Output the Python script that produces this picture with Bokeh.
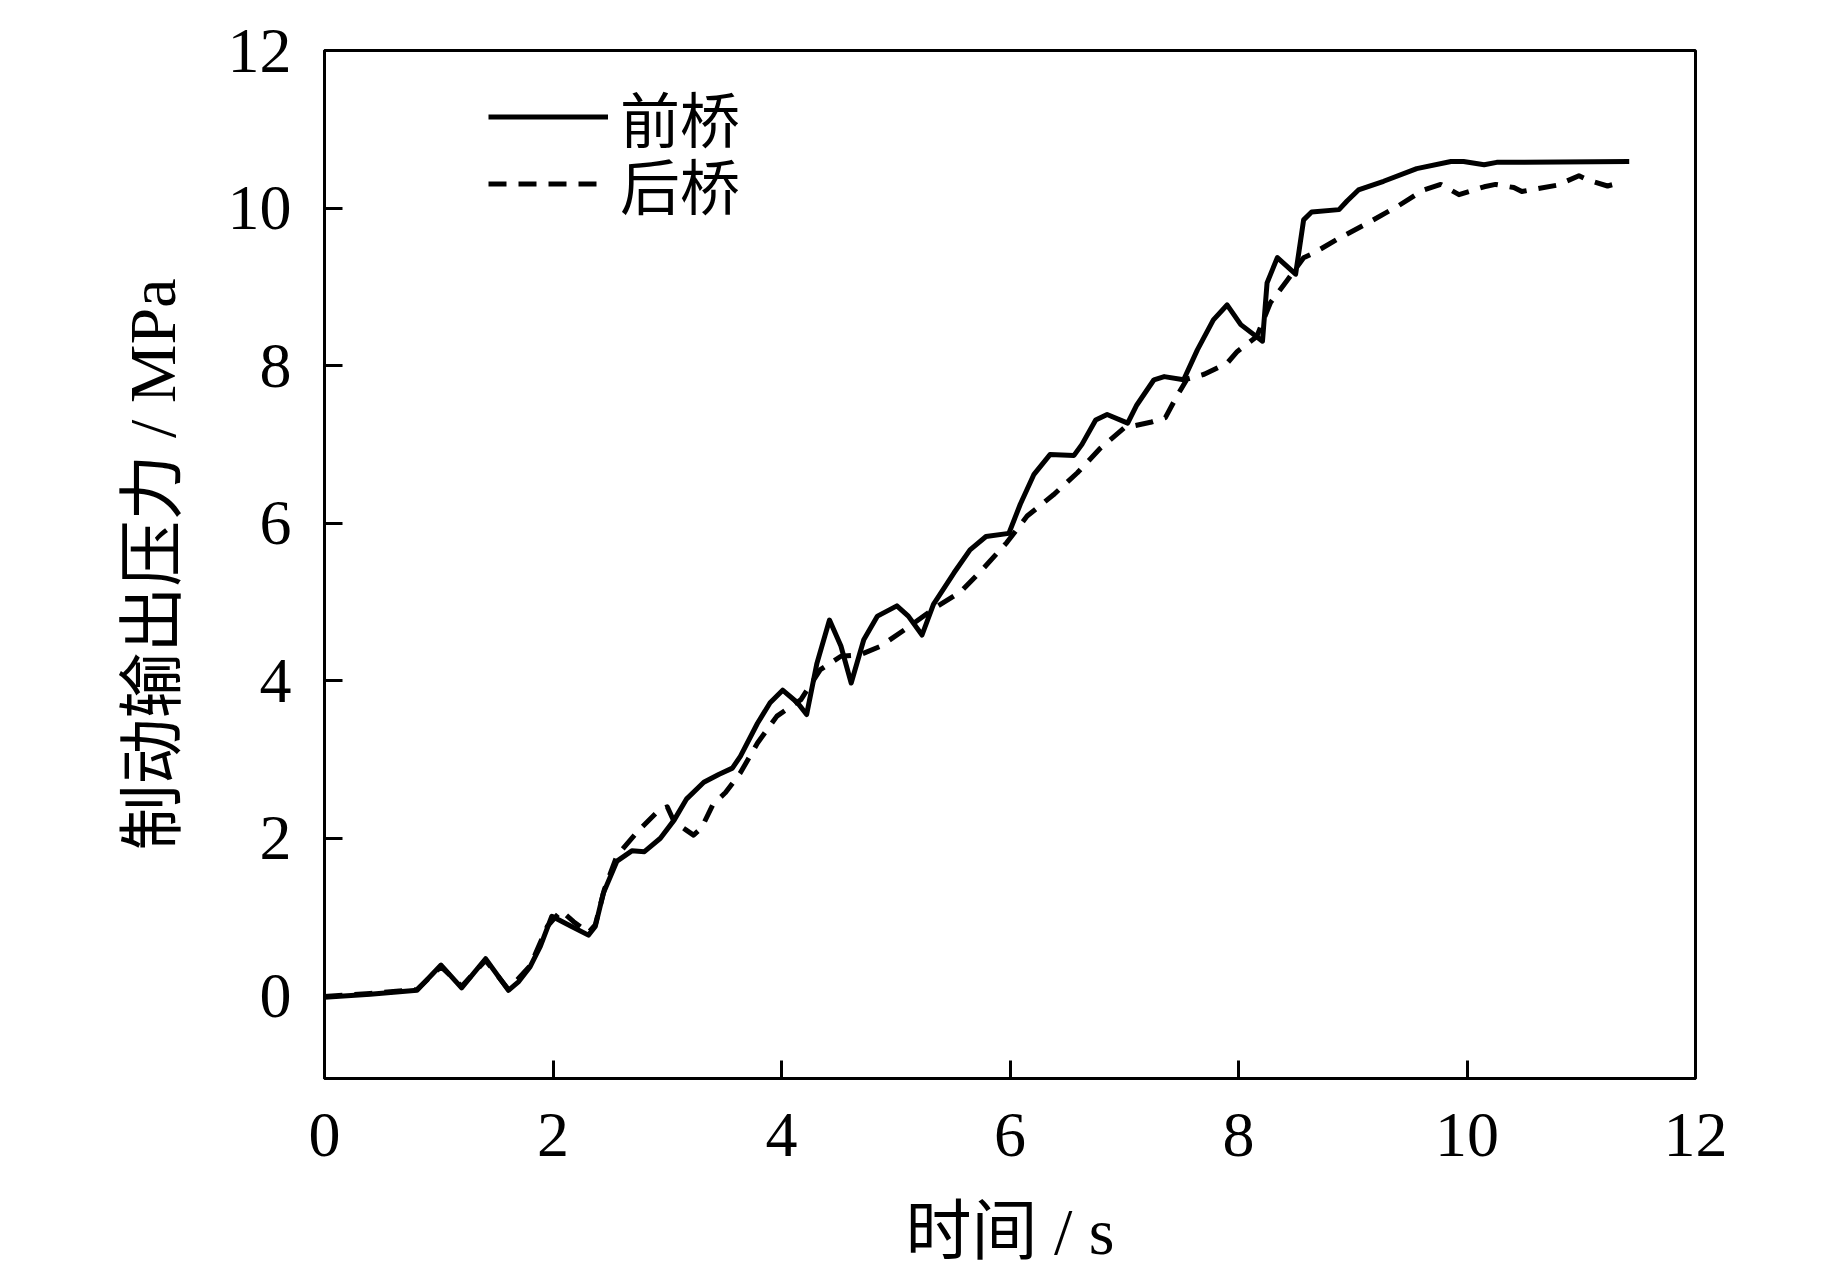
from bokeh.plotting import figure
from bokeh.models import Range1d, FixedTicker, Legend, LegendItem
from bokeh.embed import file_html
from bokeh.resources import INLINE

# ---- data ----
front_t = [0.00, 0.40, 0.81, 1.02, 1.20, 1.41, 1.61, 1.70, 1.80, 1.89, 1.99, 2.15,
           2.31, 2.37, 2.44, 2.56, 2.69, 2.80, 2.94, 3.06, 3.17, 3.32, 3.45, 3.57,
           3.64, 3.79, 3.90, 4.01, 4.14, 4.22, 4.31, 4.42, 4.52, 4.61, 4.72, 4.84,
           5.01, 5.11, 5.23, 5.33, 5.51, 5.65, 5.79, 5.99, 6.09, 6.21, 6.35, 6.56,
           6.63, 6.75, 6.85, 7.03, 7.11, 7.26, 7.35, 7.52, 7.64, 7.78, 7.90, 8.02,
           8.21, 8.25, 8.34, 8.50, 8.57, 8.64, 8.88, 8.95, 9.05, 9.27, 9.56, 9.86,
           9.97, 10.15, 10.26, 11.42]
front_p = [-0.02, 0.02, 0.07, 0.39, 0.10, 0.47, 0.07, 0.18, 0.37, 0.63, 1.01, 0.89,
           0.77, 0.88, 1.30, 1.71, 1.84, 1.83, 2.00, 2.23, 2.50, 2.71, 2.81, 2.89,
           3.04, 3.46, 3.72, 3.88, 3.72, 3.57, 4.22, 4.77, 4.44, 3.97, 4.52, 4.82,
           4.95, 4.82, 4.58, 4.97, 5.37, 5.66, 5.83, 5.87, 6.24, 6.62, 6.87, 6.86,
           7.00, 7.31, 7.38, 7.27, 7.50, 7.82, 7.86, 7.82, 8.20, 8.58, 8.77, 8.52,
           8.31, 9.05, 9.37, 9.16, 9.85, 9.95, 9.98, 10.09, 10.23, 10.34, 10.50, 10.59,
           10.59, 10.55, 10.58, 10.59]

rear_t = [0.00, 0.40, 0.81, 1.02, 1.20, 1.41, 1.61, 1.80, 1.95, 2.07, 2.18, 2.31,
          2.37, 2.45, 2.56, 2.75, 2.93, 3.00, 3.06, 3.16, 3.23, 3.30, 3.40, 3.51,
          3.64, 3.79, 3.96, 4.17, 4.34, 4.52, 4.69, 4.87, 5.10, 5.36, 5.57, 5.77,
          5.97, 6.15, 6.38, 6.59, 6.79, 7.00, 7.23, 7.36, 7.46, 7.55, 7.70, 7.90,
          7.99, 8.16, 8.28, 8.43, 8.57, 8.66, 8.86, 9.13, 9.39, 9.62, 9.77, 9.93,
          10.15, 10.25, 10.41, 10.48, 10.79, 10.98, 11.07, 11.23, 11.36]
rear_p = [-0.01, 0.03, 0.08, 0.37, 0.12, 0.45, 0.08, 0.38, 0.88, 1.08, 0.94, 0.80,
          0.90, 1.35, 1.78, 2.10, 2.36, 2.40, 2.21, 2.11, 2.04, 2.13, 2.43, 2.58,
          2.83, 3.21, 3.55, 3.76, 4.14, 4.31, 4.33, 4.44, 4.67, 4.94, 5.13, 5.43,
          5.75, 6.09, 6.36, 6.64, 6.95, 7.21, 7.28, 7.34, 7.61, 7.83, 7.89, 8.03,
          8.18, 8.37, 8.80, 9.09, 9.37, 9.43, 9.60, 9.81, 10.02, 10.23, 10.30, 10.17,
          10.27, 10.30, 10.26, 10.21, 10.29, 10.41, 10.35, 10.28, 10.33]

x_ticks = [0, 2, 4, 6, 8, 10, 12]
y_ticks = [0, 2, 4, 6, 8, 10, 12]
series_labels = ["前桥", "后桥"]
x_title = "时间 / s"
y_title = "制动输出压力 / MPa"

FONT = "Liberation Serif, Noto Sans CJK SC"

p = figure(frame_width=1371, frame_height=1028,
           x_range=Range1d(0, 12), y_range=Range1d(-1.05, 12),
           output_backend="svg", toolbar_location=None,
           min_border_left=324, min_border_top=50,
           min_border_right=132, min_border_bottom=150,
           background_fill_color="white", border_fill_color="white")

p.grid.visible = False
p.outline_line_color = "black"
p.outline_line_width = 3
p.outline_line_alpha = 1.0

p.xaxis.ticker = FixedTicker(ticks=x_ticks)
p.yaxis.ticker = FixedTicker(ticks=y_ticks)
for ax in (p.xaxis, p.yaxis):
    ax.axis_line_width = 3
    ax.axis_line_color = "black"
    ax.major_tick_line_width = 3
    ax.major_tick_line_color = "black"
    ax.major_tick_in = 18
    ax.major_tick_out = 0
    ax.minor_tick_line_color = None
    ax.major_label_text_font = FONT
    ax.major_label_text_font_size = "64px"
    ax.major_label_text_color = "black"
    ax.axis_label_text_font = FONT
    ax.axis_label_text_font_size = "66px"
    ax.axis_label_text_font_style = "normal"
    ax.axis_label_text_color = "black"

p.xaxis.axis_label = x_title
p.yaxis.axis_label = y_title
p.xaxis.major_label_standoff = 35
p.yaxis.major_label_standoff = 33
p.xaxis.axis_label_standoff = 36
p.yaxis.axis_label_standoff = 36

r1 = p.line(front_t, front_p, line_color="black", line_width=5, line_join="round")
r2 = p.line(rear_t, rear_p, line_color="black", line_width=5, line_dash="18 12",
            line_join="round")

legend_style = dict(orientation="vertical", glyph_width=120, glyph_height=67,
                    label_height=67, label_standoff=12, spacing=0, padding=0,
                    margin=0, label_text_font=FONT, label_text_font_size="60px",
                    label_text_color="black", border_line_alpha=0,
                    background_fill_alpha=0)
legend1 = Legend(items=[LegendItem(label=series_labels[0], renderers=[r1])],
                 location=(164, 918), **legend_style)
legend2 = Legend(items=[LegendItem(label=series_labels[1], renderers=[r2])],
                 location=(164, 851), **legend_style)
p.add_layout(legend1)
p.add_layout(legend2)

open("out.html", "w").write(file_html(p, INLINE))
